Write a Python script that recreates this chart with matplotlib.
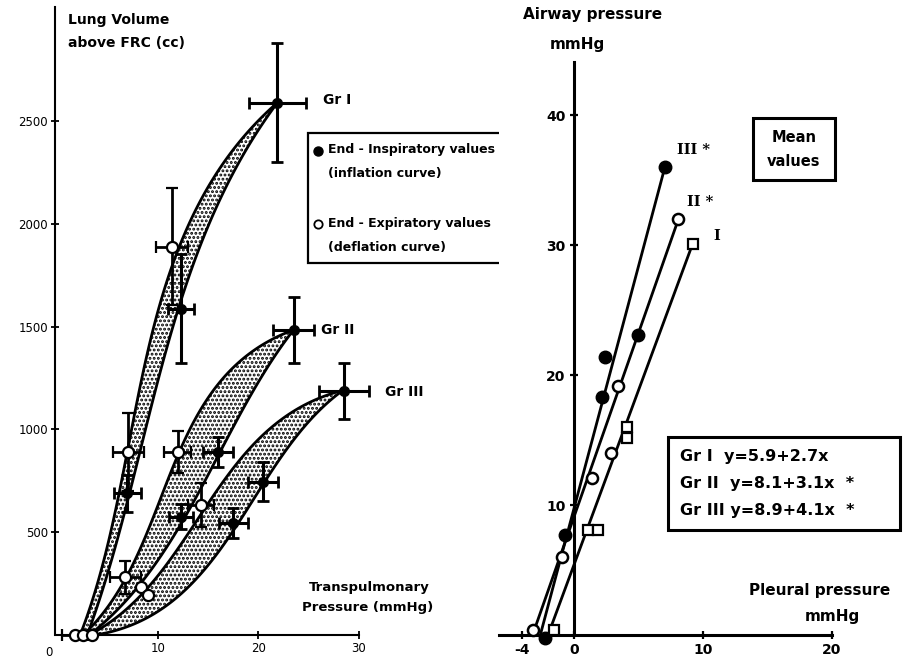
import numpy as np
import matplotlib
matplotlib.use("Agg")
import matplotlib.pyplot as plt
from matplotlib.patches import Rectangle

plt.rcParams['font.family'] = ['DejaVu Sans']
plt.rcParams['hatch.linewidth'] = 1.4

# ---------------- Left panel data ----------------
# hysteresis band edges (x = transpulmonary pressure mmHg, y = volume cc)
g1_left_x = [2.3, 3.5, 5.3, 7.5, 9.6, 12.3, 14.8, 17.6, 21.9]
g1_left_y = [0, 185, 511, 998, 1500, 1900, 2150, 2400, 2590]
g1_right_x = [3.0, 4.5, 6.3, 8.6, 11.6, 14.2, 16.6, 19.0, 21.9]
g1_right_y = [0, 185, 511, 998, 1500, 1900, 2150, 2380, 2590]

g2_left_x = [2.6, 4.3, 7.8, 10.3, 13.1, 17.3, 23.5]
g2_left_y = [0, 107, 350, 672, 998, 1290, 1484]
g2_right_x = [3.2, 6.1, 10.0, 13.6, 17.0, 22.1, 23.5]
g2_right_y = [0, 107, 350, 672, 998, 1323, 1484]

g3_left_x = [3.2, 8.0, 11.0, 14.3, 17.6, 24.0, 28.4]
g3_left_y = [0, 156, 350, 594, 850, 1070, 1190]
g3_right_x = [3.8, 11.3, 15.0, 18.8, 21.0, 24.0, 28.4]
g3_right_y = [0, 156, 350, 594, 760, 997, 1190]

# end-inspiratory (filled) points with error bars
insp_x = [21.9, 12.3, 7.0, 23.5, 16.0, 12.3, 28.5, 20.5, 17.5]
insp_y = [2590, 1586, 690, 1484, 890, 575, 1185, 745, 545]
insp_xerr = [2.8, 1.3, 1.3, 2.0, 1.5, 1.2, 2.45, 1.5, 1.45]
insp_yerr = [290, 265, 90, 160, 75, 60, 136, 95, 75]

# end-expiratory (hollow) points with error bars
exp_x = [11.4, 7.1, 6.8, 12.0, 14.3, 8.3, 9.0, 1.8, 2.6, 3.5]
exp_y = [1888, 890, 280, 890, 632, 234, 195, 0, 0, 0]
exp_xerr = [1.6, 1.5, 1.5, 1.35, 1.25, 0, 0, 1.3, 0, 0]
exp_yerr = [285, 190, 80, 100, 105, 0, 0, 0, 0, 0]

left_yticks = [500, 1000, 1500, 2000, 2500]
left_xticks = [10, 20, 30]

# ---------------- Right panel data ----------------
gIII_x = [-2.2, -0.7, 2.2, 2.4, 5.0, 7.05]
gIII_y = [-0.2, 7.7, 18.3, 21.4, 23.1, 36.0]
gII_x = [-3.2, -0.9, 1.4, 2.9, 3.4, 8.1]
gII_y = [0.4, 6.0, 12.1, 14.0, 19.2, 32.0]
gI_x = [-1.5, 1.1, 1.9, 4.1, 4.1, 9.2]
gI_y = [0.4, 8.1, 8.1, 15.2, 16.0, 30.1]

lineIII_x, lineIII_y = [-2.6, 7.05], [0, 36.0]
lineII_x, lineII_y = [-3.2, 8.1], [0, 32.0]
lineI_x, lineI_y = [-2.0, 9.2], [0, 30.1]

right_yticks = [10, 20, 30, 40]
right_xticks = [-4, 0, 10, 20]
equations = ["Gr I  y=5.9+2.7x", "Gr II  y=8.1+3.1x  *", "Gr III y=8.9+4.1x  *"]

# ---------------- helpers ----------------
W, H = 912, 670
def fx(px): return px / W
def fy(py): return 1 - py / H

def smooth_edge(xs, ys, n=120):
    """Smooth parametric curve (least squares cubic) following the edge points."""
    xs = np.asarray(xs, float); ys = np.asarray(ys, float)
    px, py = xs * 10.0, ys * 0.2055
    d = np.r_[0, np.cumsum(np.hypot(np.diff(px), np.diff(py)))]
    t = d / d[-1]
    w = np.ones(len(t)); w[0] = w[-1] = 30
    cx = np.polyfit(t, xs, 3, w=w)
    cy = np.polyfit(t, ys, 3, w=w)
    tt = np.linspace(0, 1, n)
    return np.polyval(cx, tt), np.polyval(cy, tt)

fig = plt.figure(figsize=(9.12, 6.70), dpi=100)

# ---------------- Left axes ----------------
axL = fig.add_axes([fx(55), fy(635), (361 - 55) / W, (635 - 7) / H])
axL.set_xlim(-0.2, 30.2)
axL.set_ylim(0, 3055)
for s in ['top', 'right']:
    axL.spines[s].set_visible(False)
axL.spines['left'].set_linewidth(1.5)
axL.spines['bottom'].set_linewidth(1.5)
axL.spines['bottom'].set_bounds(0, 30)
axL.set_yticks(left_yticks)
axL.set_yticklabels([str(v) for v in left_yticks])
axL.set_xticks(left_xticks)
axL.set_xticklabels([str(v) for v in left_xticks])
axL.tick_params(direction='inout', length=6, width=1.3, labelsize=8.5, pad=2)
axL.patch.set_alpha(0)

for lx, ly, rx, ry in [(g1_left_x, g1_left_y, g1_right_x, g1_right_y),
                       (g2_left_x, g2_left_y, g2_right_x, g2_right_y),
                       (g3_left_x, g3_left_y, g3_right_x, g3_right_y)]:
    ax1, ay1 = smooth_edge(lx, ly)
    ax2, ay2 = smooth_edge(rx, ry)
    px = np.concatenate([ax1, ax2[::-1]])
    py = np.concatenate([ay1, ay2[::-1]])
    axL.fill(px, py, facecolor='white', edgecolor='black', hatch='....', linewidth=0, zorder=1)
    axL.plot(ax1, ay1, color='black', lw=2.0, zorder=2, solid_capstyle='round')
    axL.plot(ax2, ay2, color='black', lw=2.0, zorder=2, solid_capstyle='round')

axL.errorbar(insp_x, insp_y, xerr=insp_xerr, yerr=insp_yerr, fmt='o', ms=7,
             mfc='black', mec='black', ecolor='black', elinewidth=2.2,
             capsize=4, capthick=2, zorder=4, clip_on=False)
axL.errorbar(exp_x, exp_y, xerr=exp_xerr, yerr=exp_yerr, fmt='o', ms=8,
             mfc='white', mec='black', mew=1.6, ecolor='black', elinewidth=2.0,
             capsize=4, capthick=2, zorder=4, clip_on=False)

fig.text(fx(49), fy(652), "0", fontsize=8.5, ha='center', va='center')
fig.text(fx(68), fy(20), "Lung Volume", fontsize=10, fontweight='bold', ha='left', va='center')
fig.text(fx(68), fy(43), "above FRC (cc)", fontsize=10, fontweight='bold', ha='left', va='center')
fig.text(fx(430), fy(587), "Transpulmonary", fontsize=9.5, fontweight='bold', ha='right', va='center')
fig.text(fx(433), fy(607), "Pressure (mmHg)", fontsize=9.5, fontweight='bold', ha='right', va='center')
fig.text(fx(323), fy(100), "Gr I", fontsize=10, fontweight='bold', ha='left', va='center')
fig.text(fx(321), fy(330), "Gr II", fontsize=10, fontweight='bold', ha='left', va='center')
fig.text(fx(385), fy(392), "Gr III", fontsize=10, fontweight='bold', ha='left', va='center')

# legend box (partly hidden by right panel, as in the original)
axL.add_patch(Rectangle((fx(308), fy(263)), fx(560) - fx(308), fy(133) - fy(263),
                        transform=fig.transFigure, fill=False, lw=1.6,
                        edgecolor='black', clip_on=False, zorder=5))
axL.plot([fx(318)], [fy(151)], 'o', ms=6.5, mfc='black', mec='black',
         transform=fig.transFigure, clip_on=False, zorder=6)
axL.plot([fx(318)], [fy(224)], 'o', ms=6, mfc='white', mec='black', mew=1.3,
         transform=fig.transFigure, clip_on=False, zorder=6)
for txt, x0, y0 in [("End - Inspiratory values", 328, 150), ("(inflation curve)", 328, 174),
                    ("End - Expiratory values", 328, 223), ("(deflation curve)", 328, 247)]:
    axL.text(fx(x0), fy(y0), txt, transform=fig.transFigure, fontsize=9,
             fontweight='bold', ha='left', va='center', clip_on=False, zorder=6)

# ---------------- Right axes ----------------
axR = fig.add_axes([fx(499), fy(635), (832 - 499) / W, (635 - 62) / H])
axR.set_facecolor('white')
axR.set_xlim(-5.8, 20)
axR.set_ylim(0, 44.1)
for s in ['top', 'right']:
    axR.spines[s].set_visible(False)
axR.spines['left'].set_position(('data', 0))
axR.spines['left'].set_linewidth(2.2)
axR.spines['bottom'].set_linewidth(2.2)
axR.set_yticks(right_yticks)
axR.set_yticklabels([str(v) for v in right_yticks])
axR.set_xticks(right_xticks)
axR.set_xticklabels([str(v) for v in right_xticks])
axR.tick_params(direction='inout', length=6, width=1.6, labelsize=10, pad=3)
for lab in axR.get_xticklabels() + axR.get_yticklabels():
    lab.set_fontweight('bold')

axR.plot(lineIII_x, lineIII_y, color='black', lw=2.0, zorder=2, clip_on=False)
axR.plot(lineII_x, lineII_y, color='black', lw=2.0, zorder=2, clip_on=False)
axR.plot(lineI_x, lineI_y, color='black', lw=2.0, zorder=2, clip_on=False)
axR.plot(gIII_x, gIII_y, 'o', ms=9, mfc='black', mec='black', zorder=4, clip_on=False)
axR.plot(gII_x, gII_y, 'o', ms=8, mfc='white', mec='black', mew=1.8, zorder=4, clip_on=False)
axR.plot(gI_x, gI_y, 's', ms=7, mfc='white', mec='black', mew=1.6, zorder=4, clip_on=False)

axR.text(8.0, 37.3, "III *", fontsize=10.5, fontweight='bold', family='DejaVu Serif', ha='left', va='center')
axR.text(8.8, 33.3, "II *", fontsize=10.5, fontweight='bold', family='DejaVu Serif', ha='left', va='center')
axR.text(10.8, 30.7, "I", fontsize=10.5, fontweight='bold', family='DejaVu Serif', ha='left', va='center')

fig.text(fx(593), fy(15), "Airway pressure", fontsize=11, fontweight='bold', ha='center', va='center')
fig.text(fx(577), fy(45), "mmHg", fontsize=11, fontweight='bold', ha='center', va='center')
fig.text(fx(820), fy(590), "Pleural pressure", fontsize=11, fontweight='bold', ha='center', va='center')
fig.text(fx(832), fy(617), "mmHg", fontsize=11, fontweight='bold', ha='center', va='center')

axR.add_patch(Rectangle((fx(753), fy(180)), fx(835) - fx(753), fy(118) - fy(180),
                        transform=fig.transFigure, fill=False, lw=2.2,
                        edgecolor='black', clip_on=False, zorder=5))
axR.text(fx(794), fy(138), "Mean", transform=fig.transFigure, fontsize=10.5,
         fontweight='bold', ha='center', va='center')
axR.text(fx(794), fy(162), "values", transform=fig.transFigure, fontsize=10.5,
         fontweight='bold', ha='center', va='center')

axR.add_patch(Rectangle((fx(668), fy(530)), fx(900) - fx(668), fy(437) - fy(530),
                        transform=fig.transFigure, fill=False, lw=2.2,
                        edgecolor='black', clip_on=False, zorder=5))
for i, eq in enumerate(equations):
    axR.text(fx(680), fy(457 + 26.5 * i), eq, transform=fig.transFigure, fontsize=11.5,
             fontweight='bold', ha='left', va='center')

fig.savefig("out.png", dpi=100)
